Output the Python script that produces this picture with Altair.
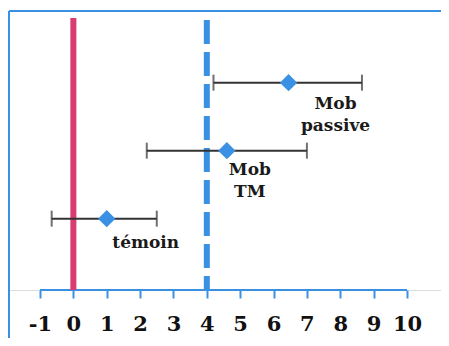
import altair as alt
import pandas as pd

# ---- data ----
groups = ["Mob passive", "Mob TM", "témoin"]
labels = [["Mob", "passive"], ["Mob", "TM"], ["témoin"]]
rows = [3, 2, 1]
means = [6.45, 4.6, 1.0]
lows = [4.2, 2.2, -0.65]
highs = [8.65, 7.0, 2.5]
tick_values = list(range(-1, 11))
ref_zero = 0
ref_threshold = 4

BLUE = "#3a91e4"
RED = "#d93c73"
DARK = "#333333"
FONT = "DejaVu Serif"

W, H = 432, 279

df = pd.DataFrame({"group": groups, "row": rows, "mean": means, "lo": lows, "hi": highs})

xs = alt.Scale(domain=[-1.929, 11.019], nice=False, zero=False)
ys = alt.Scale(domain=[-0.049, 4.054], nice=False, zero=False)

xaxis = alt.Axis(
    values=tick_values, domain=False, grid=False, title=None,
    tickSize=8, tickWidth=2, tickColor=BLUE,
    labelFont=FONT, labelFontSize=21, labelFontWeight="bold", labelColor="#111111",
    labelPadding=15, labelFlush=False, labelOverlap=False, labelSeparation=0,
    labelExpr="datum.value")

def X(field):
    return alt.X(field, scale=xs, axis=xaxis)

base = alt.Chart(df)

# border (top and left)
border_top = alt.Chart(pd.DataFrame({"a": [0]})).mark_rule(color=BLUE, strokeWidth=2).encode(
    x=alt.value(0), x2=alt.value(W), y=alt.value(0))
border_left = alt.Chart(pd.DataFrame({"a": [0]})).mark_rule(color=BLUE, strokeWidth=2).encode(
    x=alt.value(0), y=alt.value(0), y2=alt.value(H + 48))

# x-axis line from -1 to 10
axis_line = alt.Chart(pd.DataFrame({"lo": [tick_values[0]], "hi": [tick_values[-1]]})).mark_rule(
    color=BLUE, strokeWidth=2).encode(x=X("lo:Q"), x2="hi:Q", y=alt.value(H))

# reference lines
zero_line = alt.Chart(pd.DataFrame({"v": [ref_zero]})).mark_rule(color=RED, strokeWidth=6).encode(
    x=X("v:Q"), y=alt.value(7), y2=alt.value(H))
thr_line = alt.Chart(pd.DataFrame({"v": [ref_threshold]})).mark_rule(
    color=BLUE, strokeWidth=6, strokeDash=[24, 8]).encode(
    x=X("v:Q"), y=alt.value(9), y2=alt.value(H))

yenc = alt.Y("row:Q", scale=ys, axis=None)

err = base.mark_rule(color=DARK, strokeWidth=2).encode(x=X("lo:Q"), x2="hi:Q", y=yenc)
cap_lo = base.mark_tick(color=DARK, thickness=2, size=16, orient="vertical").encode(
    x=X("lo:Q"), y=yenc)
cap_hi = base.mark_tick(color=DARK, thickness=2, size=16, orient="vertical").encode(
    x=X("hi:Q"), y=yenc)
pts = base.mark_point(shape="diamond", filled=True, size=300, color=BLUE, opacity=1).encode(
    x=X("mean:Q"), y=yenc)

# label offsets (style)
offsets = {"Mob passive": (47, 13), "Mob TM": (23, 11), "témoin": (39, 16)}
texts = []
for g, lab in zip(groups, labels):
    dx, dy = offsets[g]
    t = alt.Chart(df[df.group == g]).mark_text(
        font=FONT, fontSize=17, fontWeight="bold", color="#1a1a1a",
        align="center", baseline="top", lineHeight=22, dx=dx, dy=dy).encode(
        x=X("mean:Q"), y=yenc, text=alt.value(lab))
    texts.append(t)

chart = alt.layer(
    axis_line, border_top, border_left, zero_line, thr_line, err, cap_lo, cap_hi, pts, *texts
).properties(
    width=W, height=H,
    autosize=alt.AutoSizeParams(type="none"),
    padding={"left": 1, "top": 3, "right": 0, "bottom": 48},
).configure_view(stroke=None).configure(background="white")

chart.save("out.html", embed_options={"renderer": "svg", "actions": False})
